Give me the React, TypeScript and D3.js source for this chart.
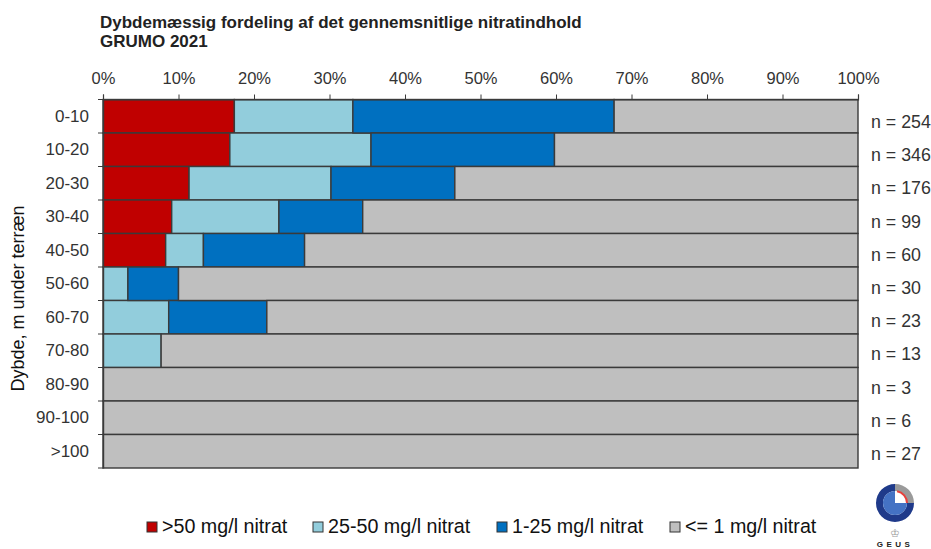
import React, { useEffect, useRef } from 'react';
import * as d3 from 'd3';

const depths = ['0-10', '10-20', '20-30', '30-40', '40-50', '50-60', '60-70', '70-80', '80-90', '90-100', '>100'];
const counts = [254, 346, 176, 99, 60, 30, 23, 13, 3, 6, 27];
const over50 = [17.4, 16.8, 11.4, 9.1, 8.3, 0, 0, 0, 0, 0, 0];
const from25to50 = [15.7, 18.7, 18.8, 14.2, 5.0, 3.3, 8.7, 7.7, 0, 0, 0];
const from1to25 = [34.6, 24.3, 16.4, 11.1, 13.4, 6.7, 13.0, 0, 0, 0, 0];
const below1 = [32.3, 40.2, 53.4, 65.6, 73.3, 90.0, 78.3, 92.3, 100, 100, 100];
const seriesNames = ['>50 mg/l nitrat', '25-50 mg/l nitrat', '1-25 mg/l nitrat', '<= 1 mg/l nitrat'];
const seriesColors = ['#c00000', '#92cddc', '#0070c0', '#bfbfbf'];
const legendX = [147, 313, 497, 670];
const ticks = d3.range(0, 101, 10);

const W = 931;
const H = 549;
const FONT = '"Liberation Sans", Arial, sans-serif';
const TEXT = '#333';

export default function App() {
  const ref = useRef<SVGSVGElement>(null);

  useEffect(() => {
    const svg = d3.select(ref.current);
    svg.selectAll('*').remove();
    svg.style('font-family', FONT);

    const x = d3.scaleLinear().domain([0, 100]).range([103, 858]);
    const y = d3.scaleBand().domain(depths).range([99.5, 468]);
    const yCount = d3.scalePoint<number>().domain(d3.range(counts.length)).range([128, 460]);

    // title
    svg.append('text').attr('x', 100).attr('y', 28).attr('font-size', 17).attr('font-weight', 'bold')
      .attr('fill', '#222').text('Dybdemæssig fordeling af det gennemsnitlige nitratindhold');
    svg.append('text').attr('x', 100).attr('y', 47).attr('font-size', 17).attr('font-weight', 'bold')
      .attr('fill', '#222').text('GRUMO 2021');

    // stacked bars
    const rows = depths.map((d, i) => ({
      depth: d, a: over50[i], b: from25to50[i], c: from1to25[i], d: below1[i],
    }));
    const stack = d3.stack<any>().keys(['a', 'b', 'c', 'd'])(rows);
    svg.append('g').selectAll('g').data(stack).join('g')
      .attr('fill', (_, i) => seriesColors[i])
      .selectAll('rect').data(s => s.filter(p => p[1] > p[0])).join('rect')
      .attr('x', p => x(p[0]))
      .attr('y', p => y(p.data.depth)!)
      .attr('width', p => x(p[1]) - x(p[0]))
      .attr('height', y.bandwidth())
      .attr('stroke', '#3a3a3a')
      .attr('stroke-width', 1.4);

    // top axis
    const axisTop = svg.append('g').attr('transform', 'translate(0,99.5)')
      .call(d3.axisTop(x).tickValues(ticks).tickFormat(d => `${d}%`).tickSize(5).tickPadding(11));
    axisTop.select('.domain').attr('stroke', '#3a3a3a').attr('stroke-width', 1.2);
    axisTop.selectAll('.tick line').attr('stroke', '#3a3a3a');
    axisTop.selectAll('text').attr('font-size', 16.5).attr('fill', TEXT).attr('font-family', FONT);

    // left axis, labels sit in the bands and the ticks between them
    const axisLeft = svg.append('g').attr('transform', 'translate(103,0)')
      .call(d3.axisLeft(y).tickSize(0).tickPadding(14));
    axisLeft.select('.domain').attr('stroke', '#3a3a3a').attr('stroke-width', 1.4);
    axisLeft.selectAll('text').attr('font-size', 17).attr('fill', TEXT).attr('font-family', FONT);
    svg.append('g').selectAll('line').data(depths.concat('end')).join('line')
      .attr('x1', 98).attr('x2', 103)
      .attr('y1', (_, i) => y(depths[0])! + i * y.step())
      .attr('y2', (_, i) => y(depths[0])! + i * y.step())
      .attr('stroke', '#3a3a3a');

    svg.append('text')
      .attr('transform', 'translate(24,298.5) rotate(-90)')
      .attr('text-anchor', 'middle').attr('font-size', 18).attr('fill', '#111')
      .text('Dybde, m under terræn');

    // n labels
    svg.append('g').selectAll('text').data(counts).join('text')
      .attr('x', 871)
      .attr('y', (_, i) => yCount(i)!)
      .attr('font-size', 17.8).attr('fill', TEXT)
      .text(d => `n = ${d}`);

    // legend
    const legend = svg.append('g').selectAll('g').data(seriesNames).join('g')
      .attr('transform', (_, i) => `translate(${legendX[i]},527)`);
    legend.append('rect').attr('x', 0).attr('y', -5).attr('width', 10).attr('height', 10)
      .attr('fill', (_, i) => seriesColors[i]).attr('stroke', '#333').attr('stroke-width', 1);
    legend.append('text').attr('x', 15).attr('y', 6).attr('font-size', 19.7).attr('fill', '#111')
      .text(d => d);

    // GEUS logo
    const logo = svg.append('g').attr('transform', 'translate(895,503)');
    const arc = d3.arc<any>();
    const deg = (v: number) => (v * Math.PI) / 180;
    logo.append('path').attr('fill', '#1f3a8a').attr('d', arc({
      innerRadius: 12, outerRadius: 19, startAngle: deg(90), endAngle: deg(360),
    })!);
    logo.append('path').attr('fill', '#9a9a9a').attr('d', arc({
      innerRadius: 12, outerRadius: 19, startAngle: deg(0), endAngle: deg(90),
    })!);
    logo.append('path').attr('fill', '#4472c4').attr('d', arc({
      innerRadius: 0, outerRadius: 12, startAngle: deg(90), endAngle: deg(360),
    })!);
    logo.append('path').attr('fill', '#ffffff').attr('d', arc({
      innerRadius: 0, outerRadius: 11, startAngle: deg(0), endAngle: deg(90),
    })!);
    logo.append('path').attr('fill', '#e8413c').attr('d', arc({
      innerRadius: 11, outerRadius: 13, startAngle: deg(10), endAngle: deg(90),
    })!);
    svg.append('text').attr('x', 895).attr('y', 537).attr('text-anchor', 'middle')
      .attr('font-size', 11).attr('fill', '#999').text('♔');
    svg.append('text').attr('x', 895).attr('y', 547).attr('text-anchor', 'middle')
      .attr('font-size', 8).attr('font-weight', 'bold').attr('letter-spacing', 3.5)
      .attr('fill', '#222').text('GEUS');
  }, []);

  return (
    <svg
      ref={ref}
      width={W}
      height={H}
      style={{ position: 'absolute', left: 0, top: 0, background: '#fff' }}
    />
  );
}
